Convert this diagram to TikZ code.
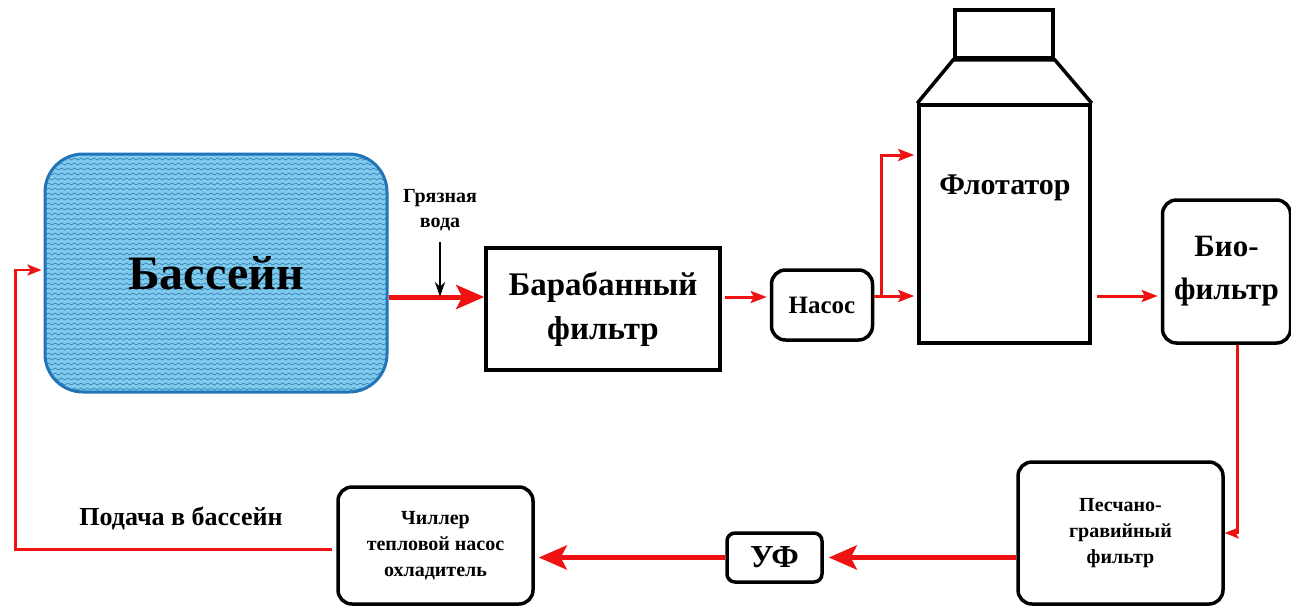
\documentclass[tikz,border=0pt]{standalone}
\usepackage{fontspec}
\setmainfont{Liberation Serif}
\usetikzlibrary{arrows.meta,positioning,calc,decorations.pathmorphing}

\definecolor{poolfill}{RGB}{128,202,236}
\definecolor{poolwave}{RGB}{45,125,180}
\definecolor{poolline}{RGB}{35,115,185}
\definecolor{flowred}{RGB}{238,18,18}

\begin{document}
\begin{tikzpicture}[x=1pt,y=-1pt,
    wave/.style={draw=poolwave,fill=none,sharp corners,line width=0.6pt,decorate,
      decoration={snake,amplitude=1pt,segment length=6.5pt}},
    roundbox/.style={rounded corners=14pt},
    flow/.style={draw=flowred,line width=3pt,-{Stealth[length=16pt,width=12pt,inset=3pt]}},
    bigflow/.style={draw=flowred,line width=5pt,-{Stealth[length=28pt,width=24pt,inset=6pt]}},
    thinflow/.style={draw=flowred,line width=2.5pt,-{Stealth[length=14pt,width=11pt,inset=3pt]}}]
  \useasboundingbox (0,0) rectangle (1291,606);

  % pool
  \node (bass) at (216,273) [draw=poolline,line width=3pt,fill=poolfill,
      rounded corners=38pt,minimum width=342pt,minimum height=238pt,
      font=\bfseries\fontsize{48}{50}\selectfont,
      path picture={
        \foreach \k in {0,...,50}
          \draw[wave] ($(path picture bounding box.north west)+(-5,5*\k)$) -- ++(360,0);
      }] {Бассейн};

  \begin{scope}[every node/.style={draw,line width=3.5pt,inner sep=0pt,align=center,font=\bfseries}]
    \node (drum)    at (603,309)    [minimum width=234pt,minimum height=122pt,
                                     font=\bfseries\fontsize{33}{44}\selectfont] {Барабанный\\фильтр};
    \node (pump)    at (822,305)    [roundbox,minimum width=101pt,minimum height=70pt,
                                     font=\bfseries\fontsize{25}{28}\selectfont] {Насос};
    \node (flot)    at (1004.5,224) [minimum width=171pt,minimum height=238pt] {};
    \node (flottop) at (1004,34)    [minimum width=98pt,minimum height=48pt] {};
    \node (bio)     at (1226.5,271.5) [roundbox,minimum width=128pt,minimum height=143pt,
                                     font=\bfseries\fontsize{31}{43}\selectfont] {Био-\\фильтр};
    \node (sand)    at (1120.5,533) [roundbox,minimum width=205pt,minimum height=142pt,
                                     font=\bfseries\fontsize{20}{26}\selectfont] {Песчано-\\гравийный\\фильтр};
    \node (uv)      at (774.5,557.5) [roundbox,rounded corners=8pt,minimum width=95pt,minimum height=49pt,
                                     font=\bfseries\fontsize{32}{34}\selectfont] {УФ};
    \node (chill)   at (435.5,545.5) [roundbox,minimum width=195pt,minimum height=117pt,
                                     font=\bfseries\fontsize{20}{26}\selectfont] {Чиллер\\тепловой насос\\охладитель};
  \end{scope}

  % flotator hood
  \draw[line width=3.5pt,line join=miter] (flot.north west) -- (flottop.south west)
    -- (flottop.south east) -- (flot.north east);

  \begin{scope}[every node/.style={align=center,font=\bfseries}]
    \node (flotname) at (1005,188) [font=\bfseries\fontsize{30}{34}\selectfont] {Флотатор};
    \node (dirty)    at (440,210)  [font=\bfseries\fontsize{20}{25}\selectfont] {Грязная\\вода};
    \node (supply)   at (181,518)  [font=\bfseries\fontsize{26}{28}\selectfont] {Подача в бассейн};
  \end{scope}

  \coordinate (drumin) at ([yshift=12pt]drum.west);
  \coordinate (pumpin) at ([yshift=8pt]pump.west);
  \coordinate (pumpout) at ([yshift=9pt]pump.east);
  \coordinate (split) at ([xshift=7pt]pumpout);
  \coordinate (dirt) at ([yshift=-8pt]dirty.south);

  \draw[bigflow] (bass.east |- drumin) -- (drumin);
  \draw[line width=2pt,-{Stealth[length=15pt,width=10pt]}] (dirt) -- (dirt |- drumin);
  \draw[flow] ([xshift=3pt]drum.east |- pumpin) -- ([xshift=-3pt]pumpin);
  \draw[flow] (pumpout) -- (split) |- ([xshift=-3pt,yshift=69pt]flot.west);
  \draw[flow] (split) -- ([xshift=-3pt]flot.west |- split);
  \draw[flow] ([xshift=5pt]flot.east |- split) -- ([xshift=-3pt]bio.west |- split);
  \draw[thinflow] ([xshift=11pt]bio.south) |- (sand.east);
  \draw[bigflow] (sand.west |- uv) -- ([xshift=5pt]uv.east);
  \draw[bigflow] (uv.west) -- ([xshift=4pt]chill.east |- uv);
  \draw[thinflow] ([xshift=-4pt,yshift=-4pt]chill.west) -| ([xshift=-28pt,yshift=3pt]bass.west)
    -- ([xshift=-2pt,yshift=3pt]bass.west);

\end{tikzpicture}
\end{document}
